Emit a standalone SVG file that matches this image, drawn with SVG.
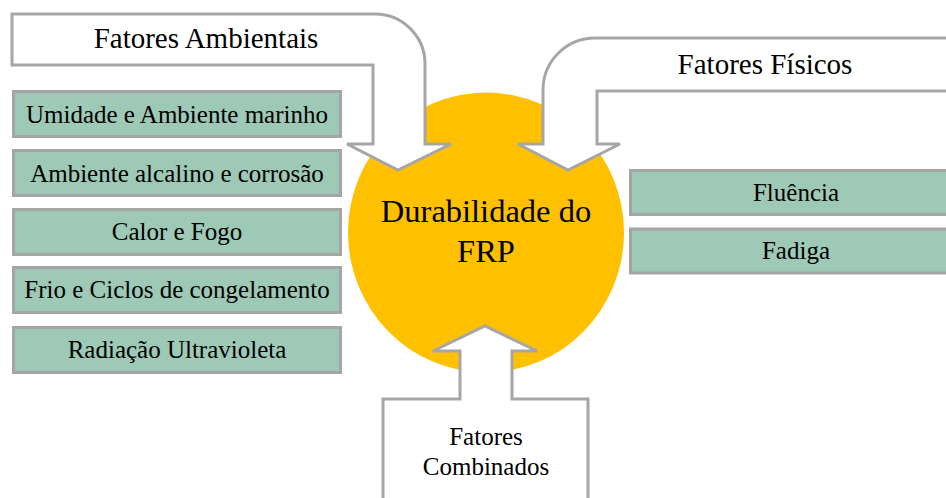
<svg xmlns="http://www.w3.org/2000/svg" width="946" height="498" viewBox="0 0 946 498">
<style>
text{font-family:"Liberation Serif","Times New Roman",serif;fill:#000;text-anchor:middle}
.box{fill:#9ec9b6;stroke:#a5a5a5;stroke-width:3}
.arrow{fill:#fff;stroke:#a6a6a6;stroke-width:3;stroke-linejoin:miter}
.t{font-size:25px}
.title{font-size:29px}
</style>
<rect width="946" height="498" fill="#fff"/>
<g id="center">
<ellipse cx="486" cy="232.5" rx="138" ry="140" fill="#ffc000"/>
<text x="486" y="222" style="font-size:32.5px">Durabilidade do</text>
<text x="486" y="262" style="font-size:32.5px">FRP</text>
</g>
<g id="connectors">
<path class="arrow" d="M12,14 H375 A50,50 0 0 1 425,64 V144 H451 L398,170 L347,144 H373 V65 H12 Z"/>
<path class="arrow" d="M960,38 H595 A52,52 0 0 0 543,90 V144 H518 L568,170 L620,144 H597 V91 H960 Z"/>
<path class="arrow" d="M383,510 V399 H460 V351 H433 L485,326 L537,351 H512 V399 H588 V510"/>
</g>
<g id="fatores-ambientais">
<text class="title" x="206" y="48">Fatores Ambientais</text>
</g>
<g id="fatores-fisicos">
<text class="title" x="765" y="74">Fatores Físicos</text>
</g>
<g id="fatores-combinados">
<text class="t" x="486" y="445">Fatores</text>
<text class="t" x="486" y="475">Combinados</text>
</g>
<g id="umidade">
<rect class="box" x="13.5" y="91.5" width="327" height="45"/>
<text class="t" x="177" y="123">Umidade e Ambiente marinho</text>
</g>
<g id="alcalino">
<rect class="box" x="13.5" y="150.5" width="327" height="45"/>
<text class="t" x="177" y="182">Ambiente alcalino e corrosão</text>
</g>
<g id="calor">
<rect class="box" x="13.5" y="209.5" width="327" height="45"/>
<text class="t" x="177" y="240">Calor e Fogo</text>
</g>
<g id="frio">
<rect class="box" x="13.5" y="267.5" width="327" height="45"/>
<text class="t" x="177" y="298">Frio e Ciclos de congelamento</text>
</g>
<g id="radiacao">
<rect class="box" x="13.5" y="327.5" width="327" height="45"/>
<text class="t" x="177" y="358">Radiação Ultravioleta</text>
</g>
<g id="fluencia">
<rect class="box" x="630.5" y="170.5" width="332" height="44"/>
<text class="t" x="796" y="201">Fluência</text>
</g>
<g id="fadiga">
<rect class="box" x="630.5" y="229" width="332" height="44"/>
<text class="t" x="796" y="259">Fadiga</text>
</g>
</svg>
